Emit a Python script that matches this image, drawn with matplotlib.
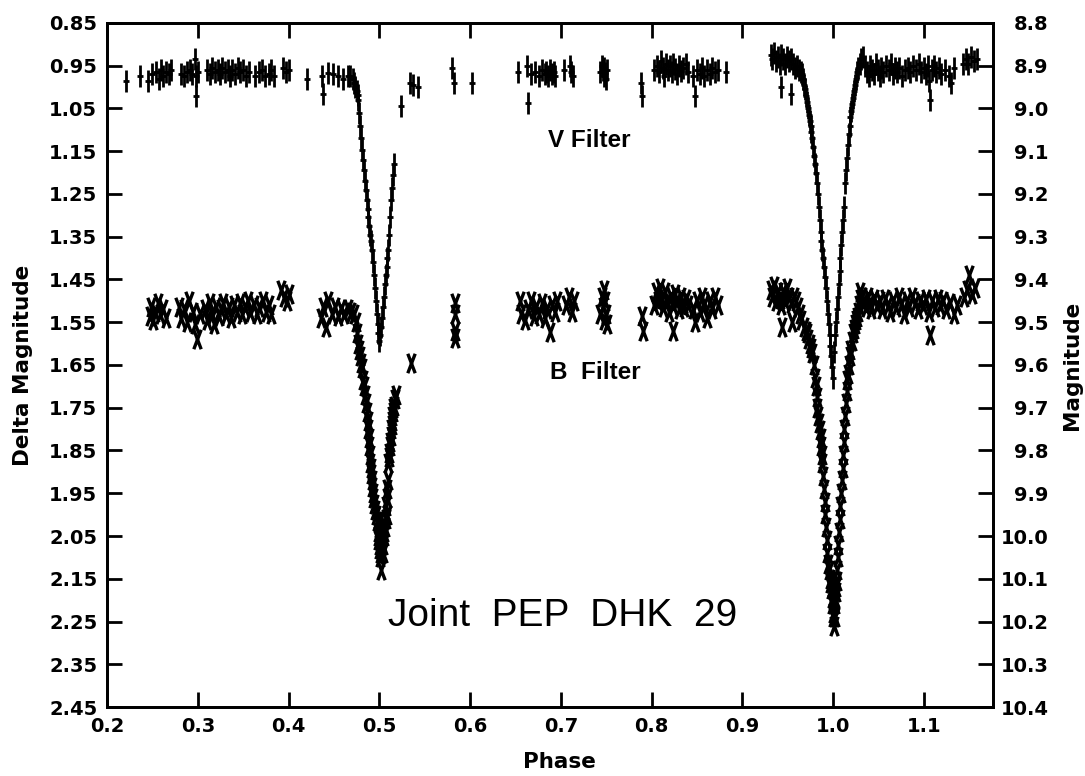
import numpy as np
import matplotlib
matplotlib.use("Agg")
from matplotlib import pyplot as plt
from matplotlib.path import Path

#-----------------------------------------------------------------------------
# V filter (delta magnitude vs phase)
v_phase = [0.221, 0.236, 0.245, 0.250, 0.254, 0.257, 0.259, 0.262, 0.265, 0.268,
           0.270, 0.281, 0.285, 0.288, 0.291, 0.294, 0.297, 0.298, 0.298, 0.300,
           0.310, 0.313, 0.316, 0.319, 0.322, 0.325, 0.327, 0.330, 0.333, 0.336,
           0.338, 0.341, 0.344, 0.347, 0.350, 0.353, 0.356, 0.363, 0.367, 0.371,
           0.374, 0.378, 0.381, 0.384, 0.394, 0.397, 0.400, 0.420, 0.437, 0.438,
           0.444, 0.449, 0.4545, 0.460,
           # primary descent at 0.5
           0.4655, 0.468, 0.4705, 0.472, 0.4735, 0.475, 0.476, 0.477, 0.478, 0.479,
           0.480, 0.481, 0.482, 0.483, 0.484, 0.485, 0.486, 0.487, 0.488, 0.489,
           0.490, 0.491, 0.492, 0.493, 0.494, 0.495, 0.496, 0.497, 0.498, 0.499,
           0.500,
           0.501, 0.502, 0.503, 0.504, 0.505, 0.506, 0.507, 0.508, 0.509, 0.510,
           0.511, 0.512, 0.513, 0.514, 0.515, 0.516,
           0.524, 0.534, 0.537, 0.543, 0.580, 0.582, 0.602,
           0.653, 0.663, 0.664, 0.667, 0.672, 0.676, 0.679, 0.682, 0.684, 0.686,
           0.688, 0.690, 0.692, 0.694, 0.703, 0.710, 0.711, 0.713,
           0.743, 0.745, 0.746, 0.747, 0.748, 0.749, 0.750, 0.751,
           0.788, 0.789,
           0.803, 0.806, 0.808, 0.810, 0.812, 0.814, 0.816, 0.818, 0.820, 0.822,
           0.824, 0.826, 0.828, 0.830, 0.832, 0.835, 0.838, 0.840,
           0.846, 0.848, 0.850, 0.853, 0.856, 0.858, 0.861, 0.864, 0.867, 0.870,
           0.873, 0.882,
           0.931, 0.933, 0.935, 0.937, 0.939, 0.941, 0.942, 0.943, 0.945, 0.947,
           0.949, 0.951, 0.953, 0.954, 0.956, 0.958, 0.960, 0.962, 0.964,
           # eclipse at 1.0
           0.966, 0.968, 0.970, 0.972, 0.974, 0.976, 0.978, 0.980, 0.982, 0.984,
           0.986, 0.988, 0.990, 0.992, 0.994, 0.996, 0.998, 0.999, 1.000,
           0.967, 0.969, 0.971, 0.973, 0.975, 0.977, 0.979, 0.981, 0.983, 0.985,
           0.987, 0.989, 0.991, 0.993, 0.995, 0.997,
           1.001, 1.002, 1.004, 1.006, 1.008, 1.010, 1.012, 1.013, 1.015, 1.017,
           1.019, 1.021, 1.023, 1.025, 1.027, 1.029, 1.031, 1.033,
           1.003, 1.005, 1.007, 1.009, 1.011, 1.014, 1.016, 1.018, 1.020, 1.022,
           1.024, 1.026,
           1.035, 1.037, 1.039, 1.041, 1.043, 1.045, 1.047, 1.049, 1.051, 1.053,
           1.055, 1.058, 1.061, 1.064, 1.066, 1.068, 1.070, 1.073, 1.076, 1.079,
           1.082, 1.085, 1.088, 1.091, 1.094, 1.097, 1.100, 1.102, 1.104, 1.106,
           1.107, 1.109, 1.111, 1.113, 1.116, 1.119, 1.123, 1.127, 1.130, 1.133,
           1.143, 1.146, 1.149, 1.152, 1.155, 1.158]
v_dmag = [0.985, 0.975, 0.985, 0.970, 0.965, 0.980, 0.960, 0.975, 0.965, 0.970,
          0.960, 0.970, 0.975, 0.965, 0.960, 0.970, 0.935, 0.975, 1.020, 0.965,
          0.960, 0.970, 0.955, 0.965, 0.960, 0.970, 0.955, 0.965, 0.960, 0.975,
          0.960, 0.970, 0.955, 0.965, 0.960, 0.975, 0.965, 0.975, 0.965, 0.960,
          0.975, 0.970, 0.960, 0.975, 0.955, 0.965, 0.960, 0.980, 0.975, 1.015,
          0.967, 0.970, 0.975, 0.980,
          0.975, 0.975, 0.980, 0.990, 1.000, 1.010, 1.018, 1.030, 1.060, 1.090,
          1.120, 1.147, 1.170, 1.195, 1.220, 1.240, 1.265, 1.285, 1.305, 1.325,
          1.345, 1.360, 1.380, 1.410, 1.440, 1.470, 1.500, 1.530, 1.555, 1.575,
          1.595,
          1.580, 1.560, 1.540, 1.515, 1.490, 1.460, 1.440, 1.420, 1.400, 1.380,
          1.345, 1.305, 1.265, 1.235, 1.205, 1.180,
          1.044, 0.990, 0.995, 1.000, 0.955, 0.990, 0.990,
          0.965, 0.950, 1.037, 0.970, 0.965, 0.975, 0.960, 0.970, 0.965, 0.975,
          0.960, 0.970, 0.965, 0.975, 0.960, 0.950, 0.965, 0.975,
          0.965, 0.950, 0.960, 0.975, 0.955, 0.968, 0.980, 0.960,
          0.990, 1.020,
          0.960, 0.950, 0.965, 0.940, 0.955, 0.975, 0.945, 0.960, 0.950, 0.965,
          0.945, 0.958, 0.970, 0.950, 0.962, 0.955, 0.945, 0.965,
          0.975, 1.020, 0.960, 0.970, 0.955, 0.975, 0.960, 0.970, 0.955, 0.965,
          0.960, 0.965,
          0.925, 0.935, 0.920, 0.940, 0.930, 0.945, 1.000, 0.925, 0.935, 0.945,
          0.930, 0.940, 1.015, 0.935, 0.945, 0.955, 0.950, 0.960, 0.965,
          0.970, 0.995, 1.020, 1.050, 1.080, 1.105, 1.140, 1.180, 1.225, 1.280,
          1.340, 1.380, 1.420, 1.470, 1.530, 1.580, 1.630, 1.655, 1.680,
          0.980, 1.005, 1.035, 1.065, 1.090, 1.120, 1.160, 1.200, 1.250, 1.310,
          1.360, 1.400, 1.445, 1.500, 1.555, 1.605,
          1.620, 1.580, 1.520, 1.460, 1.400, 1.340, 1.280, 1.225, 1.165, 1.110,
          1.070, 1.040, 1.010, 0.980, 0.955, 0.945, 0.935, 0.930,
          1.550, 1.490, 1.430, 1.370, 1.310, 1.195, 1.135, 1.090, 1.055, 1.025,
          0.995, 0.965,
          0.950, 0.965, 0.975, 0.950, 0.960, 0.970, 0.945, 0.960, 0.975, 0.955,
          0.965, 0.950, 0.960, 0.945, 0.970, 0.955, 0.965, 0.955, 0.975, 0.960,
          0.955, 0.965, 0.950, 0.960, 0.945, 0.965, 0.955, 0.970, 0.950, 0.985,
          1.030, 0.960, 0.950, 0.965, 0.955, 0.970, 0.960, 0.975, 0.990, 0.955,
          0.945, 0.935, 0.945, 0.930, 0.940, 0.935]

# B filter
b_phase = [0.247, 0.249, 0.251, 0.253, 0.256, 0.258, 0.262, 0.265, 0.279, 0.282,
           0.285, 0.288, 0.290, 0.295, 0.297, 0.299, 0.302, 0.308, 0.310, 0.313,
           0.316, 0.318, 0.320, 0.323, 0.326, 0.328, 0.331, 0.334, 0.337, 0.340,
           0.343, 0.346, 0.349, 0.352, 0.355, 0.358, 0.362, 0.365, 0.368, 0.372,
           0.375, 0.378, 0.381, 0.392, 0.395, 0.398, 0.400,
           0.436, 0.438, 0.441, 0.444, 0.448, 0.451, 0.455, 0.458, 0.461, 0.465,
           0.469, 0.472,
           # secondary minimum at 0.5
           0.474, 0.4755, 0.477, 0.479, 0.481, 0.482, 0.484, 0.486, 0.4877, 0.489,
           0.490, 0.491, 0.492, 0.493, 0.495, 0.4975, 0.498, 0.499, 0.500, 0.501,
           0.502, 0.500, 0.501, 0.503, 0.503,
           0.478, 0.480, 0.483, 0.485, 0.487, 0.4885, 0.4895, 0.4905, 0.4915,
           0.4925, 0.494, 0.496, 0.4985, 0.4995, 0.5005, 0.502, 0.501,
           0.504, 0.505, 0.506, 0.507, 0.5085, 0.509, 0.5095, 0.510, 0.511, 0.512,
           0.513, 0.514, 0.515, 0.516, 0.517, 0.518,
           0.5045, 0.5055, 0.5075, 0.508, 0.5105, 0.5115, 0.5125, 0.5135, 0.5145,
           0.5155,
           0.535, 0.5835, 0.5835, 0.583, 0.583,
           0.655, 0.656, 0.660, 0.664, 0.667, 0.670, 0.673, 0.676, 0.679, 0.682,
           0.685, 0.688, 0.690, 0.693, 0.696, 0.706, 0.709, 0.712, 0.715,
           0.743, 0.745, 0.746, 0.747, 0.748, 0.749, 0.750, 0.751,
           0.789, 0.790,
           0.803, 0.805, 0.807, 0.809, 0.811, 0.813, 0.815, 0.817, 0.819, 0.821,
           0.823, 0.824, 0.826, 0.828, 0.830, 0.832, 0.834, 0.836, 0.838, 0.840,
           0.846, 0.848, 0.850, 0.853, 0.856, 0.858, 0.861, 0.864, 0.867, 0.870,
           0.873,
           0.931, 0.933, 0.935, 0.937, 0.939, 0.941, 0.943, 0.944, 0.945, 0.947,
           0.949, 0.951, 0.953, 0.955, 0.957, 0.959, 0.961, 0.963, 0.965,
           # primary minimum at 1.0
           0.968, 0.971, 0.974, 0.977, 0.980, 0.982, 0.9835, 0.985, 0.987, 0.988,
           0.990, 0.991, 0.993, 0.9945, 0.996, 0.998, 0.999, 1.000, 1.001,
           0.9695, 0.9725, 0.9755, 0.9785, 0.981, 0.9825, 0.984, 0.986, 0.9875,
           0.989, 0.9905, 0.992, 0.9935, 0.9955, 0.997, 0.9985, 0.9995,
           1.002, 1.003, 1.004, 1.005, 1.006, 1.008, 1.010, 1.011, 1.012, 1.014,
           1.0155, 1.017, 1.019, 1.022, 1.024, 1.026, 1.028, 1.030,
           1.0015, 1.0025, 1.0035, 1.0045, 1.0055, 1.007, 1.009, 1.0105, 1.0115,
           1.013, 1.0148, 1.016, 1.018, 1.0205, 1.023, 1.025, 1.027, 1.029,
           1.032, 1.034, 1.036, 1.038, 1.040, 1.042, 1.045, 1.048, 1.051, 1.054,
           1.057, 1.060, 1.063, 1.066, 1.069, 1.072, 1.075, 1.078, 1.081, 1.084,
           1.087, 1.090, 1.093, 1.096, 1.099, 1.102, 1.105, 1.107, 1.109, 1.112,
           1.115, 1.118, 1.121, 1.124, 1.129, 1.133, 1.136, 1.144, 1.147, 1.150,
           1.153, 1.156]
b_dmag = [1.535, 1.515, 1.545, 1.525, 1.505, 1.530, 1.520, 1.540, 1.515, 1.540,
          1.520, 1.550, 1.500, 1.525, 1.555, 1.590, 1.530, 1.520, 1.545, 1.505,
          1.530, 1.555, 1.515, 1.535, 1.520, 1.505, 1.530, 1.515, 1.540, 1.510,
          1.525, 1.505, 1.530, 1.515, 1.500, 1.525, 1.510, 1.530, 1.515, 1.500,
          1.525, 1.510, 1.530, 1.475, 1.490, 1.500, 1.485,
          1.540, 1.515, 1.560, 1.500, 1.530, 1.515, 1.535, 1.520, 1.530, 1.520,
          1.525, 1.530,
          1.550, 1.576, 1.600, 1.630, 1.656, 1.685, 1.720, 1.760, 1.800, 1.840,
          1.880, 1.905, 1.935, 1.960, 1.990, 2.014, 2.040, 2.060, 2.080, 2.100,
          2.130, 2.020, 2.050, 2.070, 2.030,
          1.615, 1.645, 1.700, 1.740, 1.780, 1.820, 1.860, 1.890, 1.920,
          1.950, 1.975, 2.000, 2.050, 2.070, 2.090, 2.060, 2.010,
          2.090, 2.050, 2.030, 2.010, 2.000, 1.960, 1.920, 1.880, 1.855, 1.830,
          1.800, 1.780, 1.760, 1.745, 1.730, 1.720,
          2.070, 2.040, 1.980, 1.940, 1.865, 1.840, 1.815, 1.790, 1.770,
          1.750,
          1.646, 1.506, 1.530, 1.570, 1.588,
          1.500, 1.530, 1.545, 1.520, 1.500, 1.535, 1.515, 1.530, 1.505, 1.540,
          1.520, 1.573, 1.510, 1.525, 1.500, 1.510, 1.490, 1.525, 1.500,
          1.530, 1.490, 1.515, 1.475, 1.545, 1.500, 1.530, 1.555,
          1.535, 1.570,
          1.510, 1.480, 1.500, 1.470, 1.495, 1.515, 1.480, 1.500, 1.525, 1.490,
          1.510, 1.570, 1.485, 1.500, 1.520, 1.490, 1.505, 1.515, 1.495, 1.510,
          1.520, 1.550, 1.500, 1.525, 1.490, 1.510, 1.540, 1.500, 1.520, 1.490,
          1.510,
          1.475, 1.490, 1.465, 1.500, 1.480, 1.495, 1.510, 1.560, 1.480, 1.500,
          1.470, 1.490, 1.505, 1.550, 1.490, 1.500, 1.515, 1.530, 1.545,
          1.560, 1.576, 1.600, 1.623, 1.680, 1.726, 1.770, 1.803, 1.840, 1.880,
          1.940, 1.998, 2.060, 2.115, 2.150, 2.175, 2.194, 2.230, 2.260,
          1.570, 1.590, 1.610, 1.650, 1.700, 1.750, 1.785, 1.820, 1.860,
          1.910, 1.970, 2.030, 2.090, 2.130, 2.160, 2.210, 2.240,
          2.210, 2.180, 2.155, 2.100, 2.040, 1.980, 1.920, 1.860, 1.800, 1.740,
          1.686, 1.650, 1.616, 1.576, 1.555, 1.538, 1.510, 1.480,
          2.240, 2.195, 2.170, 2.130, 2.070, 2.010, 1.950, 1.890, 1.830,
          1.770, 1.710, 1.670, 1.630, 1.595, 1.565, 1.545, 1.525, 1.495,
          1.490, 1.500, 1.515, 1.490, 1.505, 1.520, 1.495, 1.510, 1.500, 1.520,
          1.495, 1.510, 1.525, 1.500, 1.515, 1.490, 1.510, 1.530, 1.500, 1.515,
          1.490, 1.505, 1.520, 1.500, 1.510, 1.495, 1.525, 1.580, 1.500, 1.515,
          1.495, 1.510, 1.500, 1.520, 1.505, 1.530, 1.510, 1.490, 1.475, 1.440,
          1.485, 1.470]

x_ticks = [0.2, 0.3, 0.4, 0.5, 0.6, 0.7, 0.8, 0.9, 1.0, 1.1]
left_ticks = [0.85, 0.95, 1.05, 1.15, 1.25, 1.35, 1.45, 1.55, 1.65, 1.75,
              1.85, 1.95, 2.05, 2.15, 2.25, 2.35, 2.45]
right_ticks = [8.8, 8.9, 9.0, 9.1, 9.2, 9.3, 9.4, 9.5, 9.6, 9.7, 9.8, 9.9,
               10.0, 10.1, 10.2, 10.3, 10.4]

#-----------------------------------------------------------------------------
# markers: V = plus with tall error bar, B = stretched X
plus_mark = Path([(0, -1), (0, 1), (-0.28, 0), (0.28, 0)],
                 [Path.MOVETO, Path.LINETO, Path.MOVETO, Path.LINETO])
x_mark = Path([(-0.38, 1), (0.38, -1), (0.38, 1), (-0.38, -1)],
              [Path.MOVETO, Path.LINETO, Path.MOVETO, Path.LINETO])

tick_font = dict(family='DejaVu Sans', weight='bold', size=14)
label_font = dict(family='DejaVu Sans', weight='bold', size=15.5)

fig = plt.figure(figsize=(10.85, 7.76), dpi=100)
ax = fig.add_axes([0.0986, 0.0889, 0.8166, 0.8815])

ax.plot(v_phase, v_dmag, linestyle='none', marker=plus_mark, markersize=16,
        mfc='none', mec='black', mew=2.0)
ax.plot(b_phase, b_dmag, linestyle='none', marker=x_mark, markersize=14,
        mfc='none', mec='black', mew=2.4)

ax.set_xlim(0.2, 1.176)
ax.set_ylim(2.45, 0.85)
ax.set_xticks(x_ticks)
ax.set_xticklabels(['%.1f' % t for t in x_ticks], fontdict=tick_font)
ax.set_yticks(left_ticks)
ax.set_yticklabels(['%.2f' % t for t in left_ticks], fontdict=tick_font)
ax.tick_params(axis='both', direction='in', length=11, width=2, pad=7)
ax.tick_params(axis='x', top=True)
for s in ax.spines.values():
    s.set_linewidth(2)

ax2 = ax.twinx()
ax2.set_ylim(10.4, 8.8)
ax2.set_yticks(right_ticks)
ax2.set_yticklabels(['%.1f' % t for t in right_ticks], fontdict=tick_font,
                    ha='right')
ax2.tick_params(axis='y', direction='in', length=11, width=2, pad=40)
for s in ax2.spines.values():
    s.set_linewidth(2)

ax.set_ylabel('Delta Magnitude', fontdict=label_font)
ax.yaxis.set_label_coords(-0.084, 0.5)
ax2.set_ylabel('Magnitude', fontdict=label_font)
ax2.yaxis.set_label_coords(1.078, 0.5)
ax.set_xlabel('Phase', fontdict=label_font)
ax.xaxis.set_label_coords(0.511, -0.066)

#labels inside the plot
ax.text(0.686, 1.124, 'V Filter', fontsize=17.5, weight='bold',
        family='Liberation Sans', va='center')
ax.text(0.688, 1.667, 'B  Filter', fontsize=17.5, weight='bold',
        family='Liberation Sans', va='center')
ax.text(0.5095, 2.236, 'Joint  PEP  DHK  29', fontsize=28,
        family='Liberation Sans', va='center')

plt.savefig('out.png', dpi=100)
